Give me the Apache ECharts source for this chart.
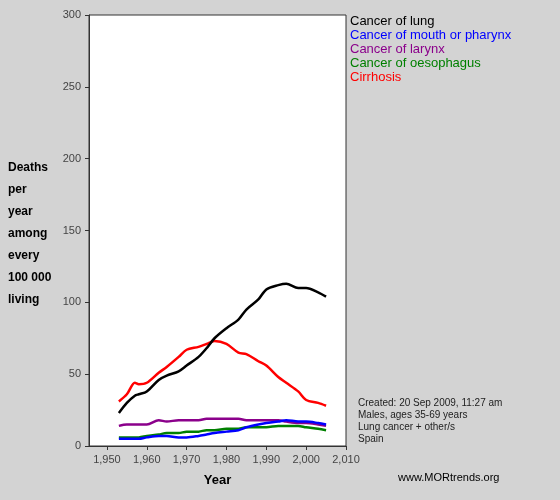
<!DOCTYPE html>
<html>
<head>
<meta charset="utf-8">
<script src="https://cdn.jsdelivr.net/npm/echarts@6/dist/echarts.min.js"></script>
</head>
<body style="margin:0;background:#d3d3d3">
<div id="main" style="width:560px;height:500px;"></div>
<script>
var years = [1953, 1955, 1957, 1958, 1960, 1963, 1965, 1968, 1970, 1973, 1975, 1977, 1980, 1983, 1985, 1988, 1990, 1993, 1995, 1998, 2000, 2003, 2005];
var lung = [23, 30, 35, 36, 38, 46, 49, 52, 56, 62, 68, 75, 82, 88, 95, 102, 109, 112, 113, 110, 110, 107, 104];
var mouth = [5, 5, 5, 5, 6, 7, 7, 6, 6, 7, 8, 9, 10, 11, 13, 15, 16, 17, 18, 17, 17, 16, 15];
var larynx = [14, 15, 15, 15, 15, 18, 17, 18, 18, 18, 19, 19, 19, 19, 18, 18, 18, 18, 17, 16, 16, 15, 14];
var oesophagus = [6, 6, 6, 6, 7, 8, 9, 9, 10, 10, 11, 11, 12, 12, 13, 13, 13, 14, 14, 14, 13, 12, 11];
var cirrhosis = [31, 36, 44, 43, 44, 51, 55, 62, 67, 69, 71, 73, 71, 65, 64, 59, 56, 48, 44, 38, 32, 30, 28];
var xTicks = [1950, 1960, 1970, 1980, 1990, 2000, 2010];
var seriesNames = ['Cancer of lung', 'Cancer of mouth or pharynx', 'Cancer of larynx', 'Cancer of oesophagus', 'Cirrhosis'];
var seriesColors = ['#000000', '#0000ff', '#8b008b', '#008000', '#ff0000'];
var seriesData = [lung, mouth, larynx, oesophagus, cirrhosis];

function pairs(v) { return years.map(function (y, i) { return [y, v[i]]; }); }

var chart = echarts.init(document.getElementById('main'));
var legendTexts = seriesNames.map(function (n, i) {
    return { type: 'text', left: 350, top: 15 + i * 14, style: { text: n, fill: seriesColors[i], font: '13px Arial' } };
});
chart.setOption({
    backgroundColor: '#d3d3d3',
    animation: false,
    grid: { left: 89, right: 214, top: 15, bottom: 54, show: true, backgroundColor: '#fff', borderColor: '#333', borderWidth: 1 },
    xAxis: {
        type: 'value', min: 1945.5, max: 2010,
        name: 'Year', nameLocation: 'middle', nameGap: 28,
        nameTextStyle: { fontWeight: 'bold', fontSize: 13, color: '#000' },
        axisLabel: { color: '#444', fontSize: 11, customValues: xTicks },
        axisLine: { lineStyle: { color: '#333' } }, axisTick: { length: 4, customValues: xTicks },
        splitLine: { show: false }
    },
    yAxis: {
        type: 'value', min: 0, max: 300, interval: 50,
        axisLabel: { color: '#444', fontSize: 11 },
        axisLine: { show: true, lineStyle: { color: '#333' } }, axisTick: { show: true, length: 4 },
        splitLine: { show: false }
    },
    graphic: legendTexts.concat([
        { type: 'text', left: 8, top: 157, style: { text: 'Deaths\nper\nyear\namong\nevery\n100 000\nliving', fill: '#000', font: 'bold 12px Arial', lineHeight: 22 } },
        { type: 'text', left: 358, top: 397, style: { text: 'Created: 20 Sep 2009, 11:27 am\nMales, ages 35-69 years\nLung cancer + other/s\nSpain', fill: '#222', font: '10px Arial', lineHeight: 12 } },
        { type: 'text', left: 398, top: 472, style: { text: 'www.MORtrends.org', fill: '#000', font: '11px Arial' } }
    ]),
    series: seriesData.map(function (d, i) {
        return { name: seriesNames[i], type: 'line', data: pairs(d), showSymbol: false, smooth: 0.3, z: 5 - i,
                 lineStyle: { color: seriesColors[i], width: 2.5 } };
    }).reverse()
});
</script>
</body>
</html>
